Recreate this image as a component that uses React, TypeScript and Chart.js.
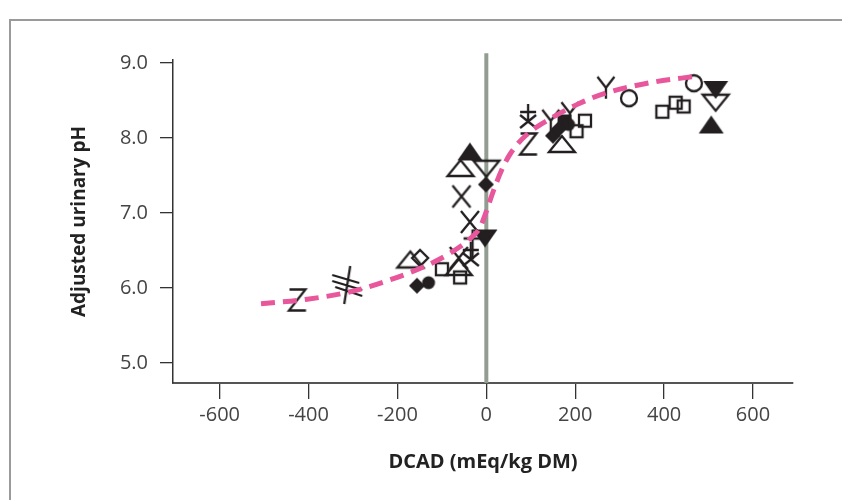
import React, { useEffect, useRef } from 'react';
import { Chart, registerables } from 'chart.js';

Chart.register(...registerables);

// ---- data ----
const fittedCurve = [
  { x: -507, y: 5.79 }, { x: -403, y: 5.85 }, { x: -306, y: 5.95 }, { x: -216, y: 6.11 },
  { x: -134, y: 6.30 }, { x: -80, y: 6.47 }, { x: -40, y: 6.64 }, { x: -15, y: 6.80 },
  { x: 0, y: 7.02 }, { x: 15, y: 7.28 }, { x: 35, y: 7.58 }, { x: 55, y: 7.80 },
  { x: 90, y: 8.04 }, { x: 142, y: 8.25 }, { x: 209, y: 8.46 }, { x: 269, y: 8.60 },
  { x: 381, y: 8.75 }, { x: 468, y: 8.82 },
];
const letterZ = [{ x: -425, y: 5.84 }, { x: 95, y: 7.92 }];
const letterX = [{ x: -62, y: 6.40 }, { x: -37, y: 6.88 }, { x: -56, y: 7.22 }];
const letterY = [{ x: 145, y: 8.23 }, { x: 188, y: 8.33 }, { x: 269, y: 8.67 }];
const hashMark = [{ x: -313, y: 6.04 }];
const asteriskMark = [{ x: -35, y: 6.44 }, { x: 94, y: 8.28 }];
const plusMark = [{ x: -31, y: 6.58 }];
const openTriUp = [{ x: -171, y: 6.38 }, { x: -62, y: 6.28 }, { x: -58, y: 7.60 }, { x: 170, y: 7.92 }];
const filledTriUp = [{ x: -37, y: 7.82 }, { x: 506, y: 8.18 }];
const openTriDown = [{ x: 0, y: 7.59 }, { x: 516, y: 8.47 }];
const filledTriDown = [{ x: -3, y: 6.66 }, { x: 516, y: 8.64 }];
const openSquare = [
  { x: -100, y: 6.25 }, { x: -59, y: 6.14 }, { x: 203, y: 8.09 }, { x: 222, y: 8.23 },
  { x: 396, y: 8.35 }, { x: 426, y: 8.47 }, { x: 444, y: 8.42 },
];
const filledSquare = [{ x: 176, y: 8.22 }];
const openCircle = [{ x: 321, y: 8.53 }, { x: 467, y: 8.73 }];
const filledCircle = [{ x: -130, y: 6.07 }, { x: 185, y: 8.18 }];
const openDiamond = [{ x: -149, y: 6.40 }];
const filledDiamond = [{ x: -156, y: 6.03 }, { x: -1, y: 7.38 }, { x: 150, y: 8.03 }, { x: 163, y: 8.12 }];

const xTickValues = [-600, -400, -200, 0, 200, 400, 600];
const yTickValues = [5, 6, 7, 8, 9];
const xTitle = 'DCAD (mEq/kg DM)';
const yTitle = 'Adjusted urinary pH';

// ---- styling ----
const INK = '#231f20';
const FONT = "'Open Sans', 'Noto Sans', sans-serif";

type Draw = (c: CanvasRenderingContext2D) => void;

function glyph(w: number, h: number, draw: Draw): HTMLCanvasElement {
  const cv = document.createElement('canvas');
  cv.width = w;
  cv.height = h;
  const c = cv.getContext('2d') as CanvasRenderingContext2D;
  c.translate(w / 2, h / 2);
  c.strokeStyle = INK;
  c.fillStyle = INK;
  c.lineWidth = 2.3;
  c.lineCap = 'butt';
  c.lineJoin = 'miter';
  draw(c);
  return cv;
}

function poly(c: CanvasRenderingContext2D, pts: number[][], fill: boolean) {
  c.beginPath();
  pts.forEach((p, i) => (i === 0 ? c.moveTo(p[0], p[1]) : c.lineTo(p[0], p[1])));
  c.closePath();
  if (fill) c.fill();
  else c.stroke();
}

function lines(c: CanvasRenderingContext2D, segs: number[][]) {
  c.beginPath();
  segs.forEach((s) => {
    c.moveTo(s[0], s[1]);
    c.lineTo(s[2], s[3]);
  });
  c.stroke();
}

function buildGlyphs() {
  return {
    letterZ: glyph(24, 28, (c) => {
      c.beginPath();
      c.moveTo(-8, -10.5);
      c.lineTo(8, -10.5);
      c.lineTo(-8.5, 10.5);
      c.lineTo(8.5, 10.5);
      c.stroke();
    }),
    letterX: glyph(24, 28, (c) => lines(c, [[-9, -11, 9, 11], [9, -11, -9, 11]])),
    letterY: glyph(24, 28, (c) => lines(c, [[-8.5, -11, 0, 0], [8.5, -11, 0, 0], [0, 0, 0, 11]])),
    hashMark: glyph(36, 44, (c) =>
      lines(c, [
        [3, -19, -3, 19],
        [-15, -10, 12, -2],
        [-15, -4, 15, 5],
        [-12, 2, 15, 11],
      ])
    ),
    asteriskMark: glyph(24, 30, (c) =>
      lines(c, [
        [0, -13, 0, 5],
        [-8, -5, 8, -5],
        [-8, -2, 8, 11],
        [8, -2, -8, 11],
      ])
    ),
    plusMark: glyph(24, 34, (c) => lines(c, [[0, -15, 0, 15], [-9, -6, 9, -6]])),
    openTriUp: glyph(32, 22, (c) => poly(c, [[-13, 8], [13, 8], [0, -8]], false)),
    filledTriUp: glyph(30, 22, (c) => poly(c, [[-12.5, 9], [12.5, 9], [0, -9]], true)),
    openTriDown: glyph(32, 22, (c) => poly(c, [[-13, -8], [13, -8], [0, 8]], false)),
    filledTriDown: glyph(30, 22, (c) => poly(c, [[-12.5, -9], [12.5, -9], [0, 9]], true)),
    openSquare: glyph(18, 18, (c) => c.strokeRect(-6, -6, 12, 12)),
    filledSquare: glyph(18, 18, (c) => c.fillRect(-7, -7, 14, 14)),
    openCircle: glyph(22, 22, (c) => {
      c.beginPath();
      c.arc(0, 0, 8, 0, Math.PI * 2);
      c.stroke();
    }),
    filledCircle: glyph(18, 18, (c) => {
      c.beginPath();
      c.arc(0, 0, 6.5, 0, Math.PI * 2);
      c.fill();
    }),
    openDiamond: glyph(22, 22, (c) => poly(c, [[0, -8], [8, 0], [0, 8], [-8, 0]], false)),
    filledDiamond: glyph(22, 22, (c) => poly(c, [[0, -8], [8, 0], [0, 8], [-8, 0]], true)),
  };
}

const zeroLinePlugin = {
  id: 'zeroLine',
  beforeDatasetsDraw(chart: any) {
    const { ctx, scales } = chart;
    const x = scales.x;
    const y = scales.y;
    const px = x.getPixelForValue(0);
    ctx.save();
    ctx.strokeStyle = '#929c90';
    ctx.lineWidth = 4;
    ctx.beginPath();
    ctx.moveTo(px, y.getPixelForValue(9.13));
    ctx.lineTo(px, y.bottom);
    ctx.stroke();
    ctx.restore();
  },
};

export default function App() {
  const ref = useRef<HTMLCanvasElement | null>(null);

  useEffect(() => {
    if (!ref.current) return;
    const g = buildGlyphs();
    const markerSets: [string, { x: number; y: number }[], HTMLCanvasElement][] = [
      ['Z', letterZ, g.letterZ],
      ['X', letterX, g.letterX],
      ['Y', letterY, g.letterY],
      ['hash', hashMark, g.hashMark],
      ['asterisk', asteriskMark, g.asteriskMark],
      ['plus', plusMark, g.plusMark],
      ['filled diamond', filledDiamond, g.filledDiamond],
      ['filled circle', filledCircle, g.filledCircle],
      ['filled square', filledSquare, g.filledSquare],
      ['open diamond', openDiamond, g.openDiamond],
      ['open circle', openCircle, g.openCircle],
      ['open square', openSquare, g.openSquare],
      ['filled triangle down', filledTriDown, g.filledTriDown],
      ['open triangle down', openTriDown, g.openTriDown],
      ['filled triangle up', filledTriUp, g.filledTriUp],
      ['open triangle up', openTriUp, g.openTriUp],
    ];

    const datasets: any[] = [
      {
        type: 'line',
        label: 'fit',
        data: fittedCurve,
        borderColor: '#e8579b',
        borderWidth: 5,
        borderDash: [14, 8],
        borderCapStyle: 'butt',
        pointRadius: 0,
        fill: false,
        showLine: true,
        cubicInterpolationMode: 'monotone',
        clip: false,
      },
      ...markerSets.map(([label, data, img]) => ({
        type: 'scatter',
        label,
        data,
        pointStyle: img,
        pointRadius: 6,
        pointHoverRadius: 6,
        clip: false,
      })),
    ];

    const chart = new Chart(ref.current, {
      type: 'scatter',
      data: { datasets },
      plugins: [zeroLinePlugin],
      options: {
        animation: false,
        responsive: false,
        events: [],
        layout: { padding: { left: 0, top: 60, right: 49, bottom: 0 } },
        plugins: { legend: { display: false }, tooltip: { enabled: false } },
        scales: {
          x: {
            type: 'linear',
            min: -705,
            max: 690,
            afterFit: (s: any) => {
              s.height = 117;
            },
            afterBuildTicks: (s: any) => {
              s.ticks = xTickValues.map((v) => ({ value: v }));
            },
            grid: {
              display: true,
              drawOnChartArea: false,
              drawTicks: true,
              tickLength: 16,
              color: '#333333',
              lineWidth: 1.3,
            },
            border: { display: true, color: '#555555', width: 2 },
            ticks: {
              color: '#444444',
              font: { family: FONT, size: 20 },
              padding: 4,
              maxRotation: 0,
              autoSkip: false,
              callback: (v: any) => String(v),
            },
            title: {
              display: true,
              text: xTitle,
              color: '#222222',
              font: { family: FONT, size: 20, weight: 'bold' },
              padding: { top: 0, bottom: 26 },
            },
          },
          y: {
            type: 'linear',
            min: 4.733,
            max: 9.04,
            afterFit: (s: any) => {
              s.width = 173;
            },
            afterBuildTicks: (s: any) => {
              s.ticks = yTickValues.map((v) => ({ value: v }));
            },
            grid: {
              display: true,
              drawOnChartArea: false,
              drawTicks: true,
              tickLength: 13,
              color: '#333333',
              lineWidth: 1.3,
            },
            border: { display: true, color: '#333333', width: 1.5 },
            ticks: {
              color: '#444444',
              font: { family: FONT, size: 20 },
              padding: 12,
              autoSkip: false,
              callback: (v: any) => Number(v).toFixed(1),
            },
            title: {
              display: true,
              text: yTitle,
              color: '#222222',
              font: { family: FONT, size: 19, weight: 'bold' },
              padding: { top: 68, bottom: 0 },
            },
          },
        },
      } as any,
    });
    return () => chart.destroy();
  }, []);

  return (
    <div style={{ position: 'fixed', left: 0, top: 0, width: 842, height: 500, background: '#ffffff', overflow: 'hidden' }}>
      <div
        style={{
          position: 'absolute',
          left: 9,
          top: 19,
          width: 900,
          height: 600,
          borderLeft: '2px solid #9a9a9a',
          borderTop: '2px solid #9a9a9a',
        }}
      />
      <canvas ref={ref} width={842} height={500} style={{ position: 'absolute', left: 0, top: 0, display: 'block' }} />
    </div>
  );
}
